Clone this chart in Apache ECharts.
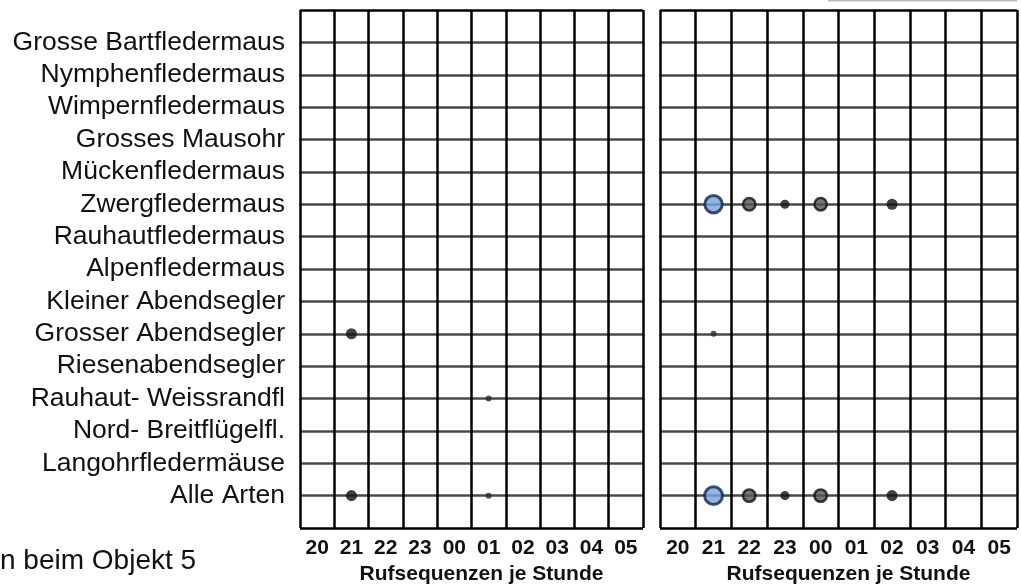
<!DOCTYPE html>
<html>
<head>
<meta charset="utf-8">
<script src="https://cdn.jsdelivr.net/npm/echarts@6/dist/echarts.min.js"></script>
<style>
  html, body { margin: 0; padding: 0; background: #fff; }
  #main { width: 1021px; height: 584px; }
</style>
</head>
<body>
<div id="main"></div>
<script>
// species rows, top to bottom
const species = [
  'Grosse Bartfledermaus', 'Nymphenfledermaus', 'Wimpernfledermaus', 'Grosses Mausohr',
  'Mückenfledermaus', 'Zwergfledermaus', 'Rauhautfledermaus', 'Alpenfledermaus',
  'Kleiner Abendsegler', 'Grosser Abendsegler', 'Riesenabendsegler', 'Rauhaut- Weissrandfl',
  'Nord- Breitflügelfl.', 'Langohrfledermäuse', 'Alle Arten'
];
const hours = ['20', '21', '22', '23', '00', '01', '02', '03', '04', '05'];

// [hour, species, call sequences]
const leftCalls = [
  ['21', 'Grosser Abendsegler', 3],
  ['01', 'Rauhaut- Weissrandfl', 1],
  ['21', 'Alle Arten', 3],
  ['01', 'Alle Arten', 1]
];
const rightCalls = [
  ['21', 'Zwergfledermaus', 12],
  ['22', 'Zwergfledermaus', 4],
  ['23', 'Zwergfledermaus', 2],
  ['00', 'Zwergfledermaus', 4],
  ['02', 'Zwergfledermaus', 3],
  ['21', 'Grosser Abendsegler', 1],
  ['21', 'Alle Arten', 13],
  ['22', 'Alle Arten', 4],
  ['23', 'Alle Arten', 2],
  ['00', 'Alle Arten', 4],
  ['02', 'Alle Arten', 3]
];

const chart = echarts.init(document.getElementById('main'));

const toPoints = rows => rows.map(r => {
  const n = r[2];
  let style;
  if (n >= 10) style = { color: '#79a3dd', borderColor: '#14264a', borderWidth: 3 };
  else if (n >= 4) style = { color: '#555', borderColor: '#111', borderWidth: 2.5 };
  else if (n >= 2) style = { color: '#111' };
  else style = { color: '#2a2a2a' };
  return { value: [r[0], species.indexOf(r[1]) + 1, n], itemStyle: style };
});

// top and bottom frame lines black, the rest grey
const rowLineColors = [];
for (let i = 0; i <= 16; i++) rowLineColors.push(i === 0 || i === 16 ? '#000' : '#4a4a4a');

const xAxisFor = gridIndex => ({
  gridIndex,
  type: 'category',
  data: hours,
  boundaryGap: true,
  axisLine: { show: false },
  axisTick: { show: false },
  axisLabel: {
    color: '#111', fontSize: 21, fontWeight: 'bold', fontFamily: 'Liberation Sans',
    margin: 10
  },
  splitLine: { show: true, lineStyle: { color: '#000', width: 2.5 } },
  name: 'Rufsequenzen je Stunde',
  nameLocation: 'middle',
  nameGap: 36,
  nameTextStyle: {
    color: '#111', fontSize: 21, fontWeight: 'bold', fontFamily: 'Liberation Sans',
    padding: [0, 0, 0, 20]
  }
});

const yAxisFor = (gridIndex, showLabels) => ({
  gridIndex,
  type: 'value',
  min: 0,
  max: 16,
  interval: 1,
  inverse: true,
  axisLine: { show: false },
  axisTick: { show: false },
  axisLabel: {
    show: showLabels,
    color: '#111', fontSize: 26.5, fontFamily: 'Liberation Sans', margin: 15,
    formatter: v => (v >= 1 && v <= 15 ? species[v - 1] : '')
  },
  splitLine: { show: true, lineStyle: { color: rowLineColors, width: 2.5 } }
});

// marker grows with the log of the count
const sizeOf = v => 6 + 4.6 * Math.log(v[2]);

const option = {
  animation: false,
  grid: [
    { left: 300, right: 378, top: 10, bottom: 56, outerBoundsMode: 'none' },
    { left: 660, right: 4, top: 10, bottom: 56, outerBoundsMode: 'none' }
  ],
  xAxis: [xAxisFor(0), xAxisFor(1)],
  yAxis: [yAxisFor(0, true), yAxisFor(1, false)],
  graphic: [
    {
      type: 'text', left: 0, top: 547,
      style: { text: 'n beim Objekt 5', fontSize: 28, fontFamily: 'Liberation Sans', fill: '#111' }
    },
    {
      type: 'rect', shape: { x: 828, y: 0, width: 189, height: 1.5 },
      style: { fill: '#bbb' }
    }
  ],
  series: [
    {
      type: 'scatter', xAxisIndex: 0, yAxisIndex: 0, z: 5,
      symbolSize: sizeOf,
      data: toPoints(leftCalls)
    },
    {
      type: 'scatter', xAxisIndex: 1, yAxisIndex: 1, z: 5,
      symbolSize: sizeOf,
      data: toPoints(rightCalls)
    }
  ]
};

chart.setOption(option);
</script>
</body>
</html>
